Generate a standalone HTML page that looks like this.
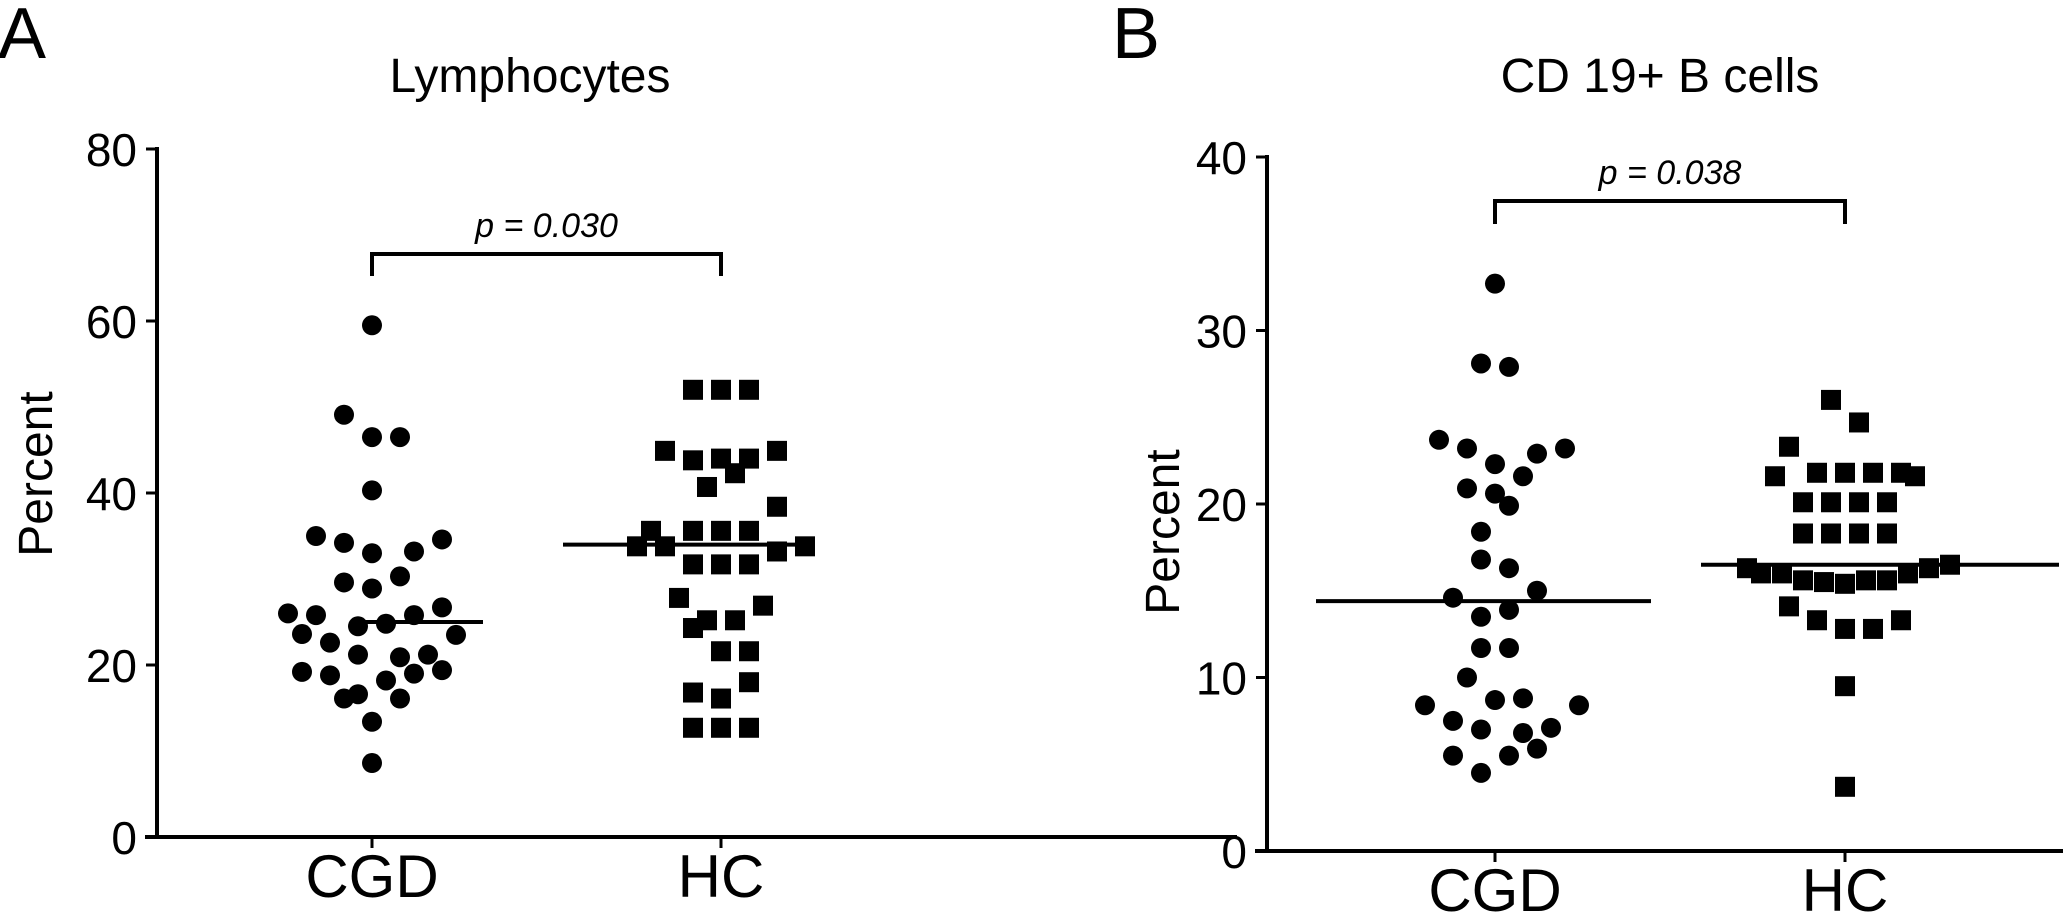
<!DOCTYPE html>
<html><head><meta charset="utf-8"><style>
html,body{margin:0;padding:0;background:#fff;}
svg{display:block;font-family:"Liberation Sans",Arial,sans-serif;}
</style></head><body>
<svg id="fig" width="2063" height="920" viewBox="0 0 2063 920" xmlns="http://www.w3.org/2000/svg">
<rect width="2063" height="920" fill="#fff"/>
</svg>
<script>
// Panel A: Lymphocytes
const aCategories = ["CGD","HC"];
const aTicks = [0,20,40,60,80];
const aCgdValues = [59.5,49.1,46.5,46.5,40.3,35.0,34.2,34.6,33.0,33.2,30.3,29.6,28.9,26.0,25.8,25.8,26.7,24.5,24.8,23.6,23.5,22.6,21.2,20.9,21.2,19.2,18.8,19.0,19.4,18.2,16.1,16.6,16.1,13.4,8.6];
const aCgdSlots = [0,-2,0,2,0,-4,-2,5,0,3,2,-2,0,-6,-4,3,5,-1,1,-5,6,-3,-1,2,4,-5,-3,3,5,1,-2,-1,2,0,0];
const aHcValues = [52,52,52,44.9,43.8,44,44,44.9,42.3,40.7,38.4,35.6,35.6,35.6,35.6,33.8,33.8,33.2,33.8,31.7,31.7,31.7,27.8,26.9,25.2,25.2,24.3,21.6,21.6,18.0,16.8,16.1,12.7,12.7,12.7];
const aHcSlots = [-2,0,2,-4,-2,0,2,4,1,-1,4,-5,-2,0,2,-6,-4,4,6,-2,0,2,-3,3,-1,1,-2,0,2,2,-2,0,-2,0,2];
const aMedians = [25.0,34.0];
// Panel B: CD19+ B cells
const bCategories = ["CGD","HC"];
const bTicks = [0,10,20,30,40];
const bCgdValues = [32.7,28.1,27.9,23.7,23.2,22.9,23.2,22.3,21.6,20.9,20.6,19.9,18.4,16.8,16.3,14.6,15.0,13.5,13.9,11.7,11.7,10.0,8.4,8.7,8.8,8.4,7.5,7.0,6.8,7.1,5.5,5.5,5.9,4.5];
const bCgdSlots = [0,-1,1,-4,-2,3,5,0,2,-2,0,1,-1,-1,1,-3,3,-1,1,-1,1,-2,-5,0,2,6,-3,-1,2,4,-3,1,3,-1];
const bHcValues = [26.0,24.7,23.3,21.6,21.8,21.8,21.8,21.8,21.6,20.1,20.1,20.1,20.1,18.3,18.3,18.3,18.3,16.3,16.0,16.0,15.6,15.5,15.4,15.6,15.6,16.0,16.3,16.5,14.1,13.3,12.8,12.8,13.3,9.5,3.7];
const bHcSlots = [-1,1,-4,-5,-2,0,2,4,5,-3,-1,1,3,-3,-1,1,3,-7,-6,-4.5,-3,-1.5,0,1.5,3,4.5,6,7.5,-4,-2,0,2,4,0,0];
const bMedians = [14.4,16.5];

const NS="http://www.w3.org/2000/svg";
const svg=document.getElementById('fig');
function mk(tag,attrs,parent,text){const e=document.createElementNS(NS,tag);for(const k in attrs)e.setAttribute(k,attrs[k]);if(text!==undefined)e.textContent=text;(parent||svg).appendChild(e);return e;}

function panel(cfg){
  const g=mk('g',{});
  
  
  const y=v=>cfg.y0-(v-cfg.min)/(cfg.max-cfg.min)*(cfg.y0-cfg.yTop);
  const xs=[cfg.xCgd,cfg.xHc];
  const letter=mk('text',{x:cfg.letterX,y:58,'font-size':72},g,cfg.letter);
  
  
  const title=mk('text',{x:cfg.titleX,y:92,'font-size':48,'text-anchor':'middle'},g,cfg.title);
  
  
  const ya=mk('line',{x1:cfg.axisX,y1:cfg.yTop-2,x2:cfg.axisX,y2:cfg.y0+2,stroke:'#000','stroke-width':4},g);
  
  
  const xa=mk('line',{x1:cfg.axisX-12,y1:cfg.y0,x2:cfg.xEnd,y2:cfg.y0,stroke:'#000','stroke-width':4},g);
  
  
  cfg.ticks.forEach(t=>{
    const tk=mk('line',{x1:cfg.axisX-11,y1:y(t),x2:cfg.axisX,y2:y(t),stroke:'#000','stroke-width':3},g);
    
    
    const tl=mk('text',{x:cfg.axisX-20,y:y(t)+17,'font-size':46,'text-anchor':'end'},g,String(t));
    
    
  });
  cfg.cats.forEach((c,i)=>{
    const tk=mk('line',{x1:xs[i],y1:cfg.y0,x2:xs[i],y2:cfg.y0+11,stroke:'#000','stroke-width':3},g);
    
    
    const tl=mk('text',{x:xs[i],y:cfg.y0+60,'font-size':60,'text-anchor':'middle'},g,c);
    
    
  });
  const yl=mk('text',{x:0,y:0,'font-size':48,'text-anchor':'middle',transform:`translate(${cfg.ylabX},${cfg.ylabY}) rotate(-90)`},g,'Percent');
  
  
  const s=14;
  cfg.cgd.forEach((v,i)=>{
    const c=mk('circle',{cx:xs[0]+cfg.cgdSlots[i]*s,cy:y(v),r:10,fill:'#000'},g);
    
    
  });
  cfg.hc.forEach((v,i)=>{
    const r=mk('rect',{x:xs[1]+cfg.hcSlots[i]*s-10,y:y(v)-10,width:20,height:20,fill:'#000'},g);
    
    
  });
  cfg.medians.forEach((m,i)=>{
    const l=mk('line',{x1:cfg.medX[i][0],y1:y(m),x2:cfg.medX[i][1],y2:y(m),stroke:'#000','stroke-width':4},g);
    
    
  });
  const br=mk('path',{d:`M${xs[0]},${cfg.brB} V${cfg.brT} H${xs[1]} V${cfg.brB}`,fill:'none',stroke:'#000','stroke-width':4},g);
  
  
  const p=mk('text',{x:(xs[0]+xs[1])/2,y:cfg.brT-17,'font-size':34,'font-style':'italic','text-anchor':'middle'},g,cfg.p);
  
  
}
panel({name:'lymphocytes-chart',letter:'A',letterX:-2,title:'Lymphocytes',titleX:530,axisX:157,y0:837,yTop:149,min:0,max:80,xEnd:1237,xCgd:372,xHc:721,ticks:aTicks,cats:aCategories,cgd:aCgdValues,cgdSlots:aCgdSlots,hc:aHcValues,hcSlots:aHcSlots,medians:aMedians,medX:[[355,483],[563,812]],brT:254,brB:276,p:'p = 0.030',ylabX:52,ylabY:474});
panel({name:'b-cells-chart',letter:'B',letterX:1112,title:'CD 19+ B cells',titleX:1660,axisX:1267,y0:851,yTop:157,min:0,max:40,xEnd:2063,xCgd:1495,xHc:1845,ticks:bTicks,cats:bCategories,cgd:bCgdValues,cgdSlots:bCgdSlots,hc:bHcValues,hcSlots:bHcSlots,medians:bMedians,medX:[[1316,1651],[1701,2059]],brT:201,brB:224,p:'p = 0.038',ylabX:1179,ylabY:532});
</script>
</body></html>
